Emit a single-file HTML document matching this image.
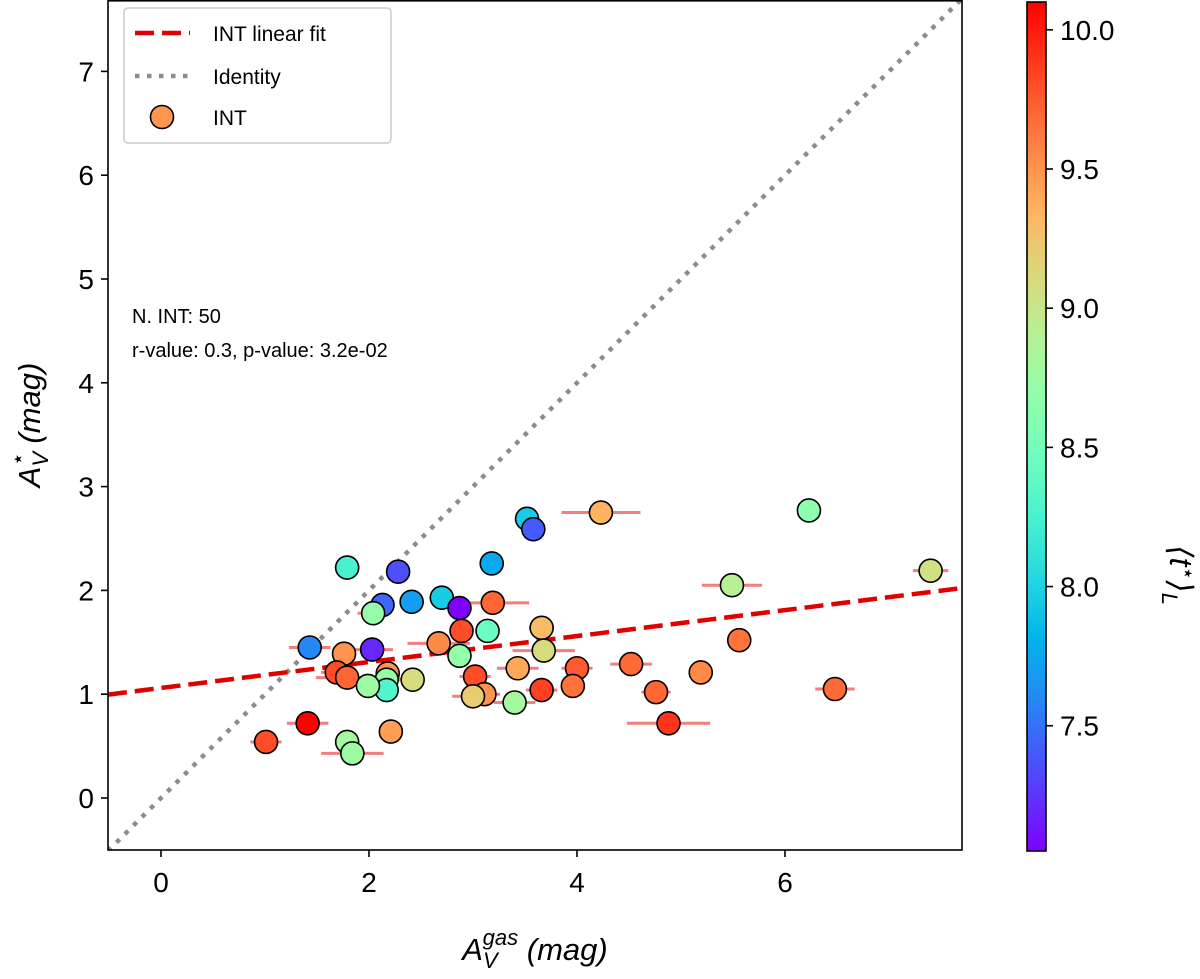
<!DOCTYPE html>
<html><head><meta charset="utf-8"><style>
body{margin:0;background:#fff;}
svg{display:block;font-family:"Liberation Sans","DejaVu Sans",sans-serif;}
</style></head><body>
<svg id="chart" width="1200" height="979" xmlns="http://www.w3.org/2000/svg"></svg>
<script>
const xs=[3.52,3.58,1.79,2.28,3.18,2.13,2.04,2.41,2.70,2.87,3.19,2.89,3.14,3.66,3.68,1.43,1.76,2.03,2.67,2.87,1.69,1.79,2.18,2.17,2.17,1.99,2.42,3.02,3.43,4.00,3.96,3.11,3.00,3.40,3.66,1.41,1.01,1.79,1.84,2.21,4.23,6.23,5.49,7.40,5.56,4.52,4.76,5.19,6.48,4.88];
const ys=[2.69,2.59,2.22,2.18,2.26,1.86,1.78,1.89,1.93,1.83,1.88,1.61,1.61,1.64,1.42,1.45,1.39,1.43,1.49,1.37,1.21,1.16,1.20,1.14,1.04,1.08,1.14,1.17,1.25,1.25,1.08,1.00,0.98,0.92,1.04,0.72,0.54,0.54,0.43,0.64,2.75,2.77,2.05,2.19,1.52,1.29,1.02,1.21,1.05,0.72];
const ts=[7.95,7.4,8.25,7.35,7.75,7.45,8.7,7.7,7.95,7.05,9.7,9.8,8.45,9.3,9.1,7.6,9.5,7.2,9.55,8.7,9.8,9.7,9.5,8.7,8.3,8.75,9.1,9.8,9.4,9.75,9.65,9.5,9.2,8.8,9.85,10.1,9.8,8.8,8.75,9.45,9.35,8.65,8.9,9.05,9.65,9.68,9.7,9.55,9.68,9.9];
const xerr=[0.1,0.1,0.12,0,0,0.1,0.15,0.1,0.1,0.1,0.35,0.1,0.1,0.12,0.3,0.2,0.1,0.2,0.3,0.1,0.15,0.3,0.1,0.2,0.1,0.1,0,0.15,0.2,0.15,0.1,0.15,0.2,0.2,0.15,0.2,0.15,0.1,0.3,0,0.38,0,0.29,0.17,0.1,0.2,0.14,0,0.19,0.4];
const fitSlope=0.125, fitIntercept=1.06;
const xTicks=[0,2,4,6], yTicks=[0,1,2,3,4,5,6,7], cTicks=[7.5,8.0,8.5,9.0,9.5,10.0];
const L=108,R=962,T=0,B=850;
const X=v=>161+v*104, Y=v=>798-v*103.8;
const xMin=-0.51,xMax=7.70;
const cMin=7.05,cMax=10.1,cT=2,cB=851;
const C=v=>cB-(v-cMin)/(cMax-cMin)*(cB-cT);
function rainbow(t){let x=Math.max(0,Math.min(1,(t-cMin)/(cMax-cMin)));
 let r=Math.min(1,Math.abs(2*x-0.5)),g=Math.sin(Math.PI*x),b=Math.cos(Math.PI*x/2);
 return `rgb(${Math.round(r*255)},${Math.round(g*255)},${Math.round(b*255)})`;}
const svg=document.getElementById('chart');const NS='http://www.w3.org/2000/svg';
function mk(tag,at,parent){const e=document.createElementNS(NS,tag);for(const k in at)e.setAttribute(k,at[k]);(parent||svg).appendChild(e);return e;}
const defs=mk('defs',{});
const cp=mk('clipPath',{id:'clip'},defs);mk('rect',{x:L,y:T,width:R-L,height:B-T},cp);
const lg=mk('linearGradient',{id:'cgrad',x1:0,y1:1,x2:0,y2:0},defs);
for(let i=0;i<=20;i++){mk('stop',{offset:i/20,'stop-color':rainbow(cMin+(cMax-cMin)*i/20)},lg);}
const plot=mk('g',{'clip-path':'url(#clip)'});

let idl=mk('line',{x1:X(xMin),y1:Y(xMin),x2:X(xMax),y2:Y(xMax),stroke:'#8c8c8c','stroke-width':4.5,'stroke-dasharray':'4.5 7.5'},plot);

for(let i=0;i<xs.length;i++){if(!xerr[i])continue;
 const e=mk('line',{x1:X(xs[i]-xerr[i]),x2:X(xs[i]+xerr[i]),y1:Y(ys[i]),y2:Y(ys[i]),stroke:'rgba(235,40,40,0.6)','stroke-width':3},plot);
 }
let fl=mk('line',{x1:X(xMin),y1:Y(fitIntercept+fitSlope*xMin),x2:X(xMax),y2:Y(fitIntercept+fitSlope*xMax),stroke:'#e00000','stroke-width':4.5,'stroke-dasharray':'19 8'},plot);

for(let i=0;i<xs.length;i++){
 const c=mk('circle',{cx:X(xs[i]),cy:Y(ys[i]),r:11.5,fill:rainbow(ts[i]),stroke:'#000','stroke-width':1.6},plot);
 }
let fr=mk('rect',{x:L,y:T+0.8,width:R-L,height:B-T-0.8,fill:'none',stroke:'#000','stroke-width':1.6});

xTicks.forEach(v=>{mk('line',{x1:X(v),x2:X(v),y1:B,y2:B+7,stroke:'#000','stroke-width':1.6});
 const t=mk('text',{x:X(v),y:B+42,'font-size':28,'text-anchor':'middle'});t.textContent=v;
 });
yTicks.forEach(v=>{mk('line',{x1:L-7,x2:L,y1:Y(v),y2:Y(v),stroke:'#000','stroke-width':1.6});
 const t=mk('text',{x:L-14,y:Y(v)+10,'font-size':28,'text-anchor':'end'});t.textContent=v;
 });
let cb=mk('rect',{x:1027,y:cT,width:19,height:cB-cT,fill:'url(#cgrad)',stroke:'#000','stroke-width':1.6});

cTicks.forEach(v=>{mk('line',{x1:1046,x2:1053,y1:C(v),y2:C(v),stroke:'#000','stroke-width':1.6});
 const t=mk('text',{x:1060,y:C(v)+10,'font-size':28});t.textContent=v.toFixed(1);
 });
</script>
<svg style="position:absolute;left:0;top:0" width="1200" height="979" xmlns="http://www.w3.org/2000/svg" font-family="Liberation Sans, DejaVu Sans, sans-serif">
<g>
<rect x="124" y="8" width="267" height="135" rx="4" fill="#fff" fill-opacity="0.85" stroke="#ccc" stroke-width="1.5"/>
<line x1="135" y1="33" x2="190" y2="33" stroke="#e00000" stroke-width="4.5" stroke-dasharray="19 8"/>
<text x="213" y="41" font-size="21">INT linear fit</text>
<line x1="135" y1="76" x2="190" y2="76" stroke="#8c8c8c" stroke-width="4.5" stroke-dasharray="4.5 7.5"/>
<text x="213" y="84" font-size="21">Identity</text>
<circle cx="162" cy="117" r="11.5" fill="rgb(255,150,80)" stroke="#000" stroke-width="1.6"/>
<text x="213" y="125" font-size="21">INT</text>
</g>
<text x="132" y="323" font-size="20">N. INT: 50</text>
<text x="132" y="357" font-size="20">r-value: 0.3, p-value: 3.2e-02</text>
<text x="535" y="960" font-size="31" text-anchor="middle" font-style="italic">A<tspan font-size="22" dy="8">V</tspan><tspan font-size="22" dx="-15" dy="-23">gas</tspan><tspan dy="15"> (mag)</tspan></text>
<text transform="translate(40,425) rotate(-90)" font-size="31" text-anchor="middle" font-style="italic">A<tspan font-size="22" dy="8">V</tspan><tspan font-size="22" dx="-14" dy="-23">⋆</tspan><tspan dy="15"> (mag)</tspan></text>
<text transform="translate(1170,575) rotate(90)" font-size="32" text-anchor="middle" font-style="italic">⟨t<tspan font-size="22" dy="-11">⋆</tspan><tspan dy="11">⟩</tspan><tspan font-size="22" dy="8">L</tspan></text>
</svg>
</body></html>
